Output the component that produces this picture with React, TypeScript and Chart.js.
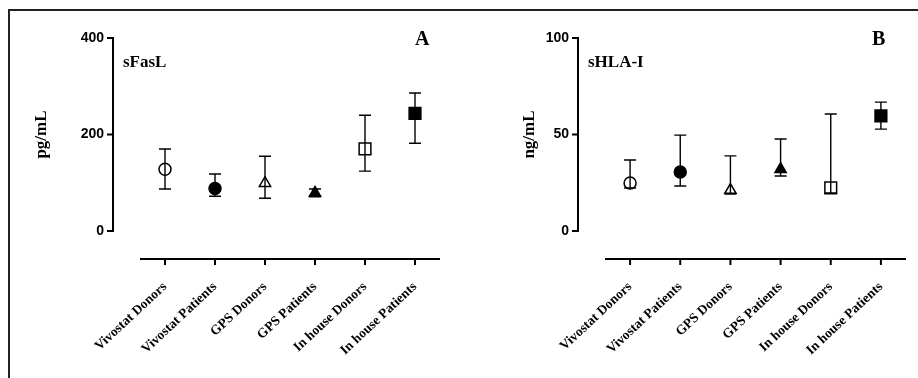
import React, { useEffect, useRef } from "react";
import { Chart, registerables } from "chart.js";

Chart.register(...registerables);

// ---------- data ----------
const categories = [
  "Vivostat Donors",
  "Vivostat Patients",
  "GPS Donors",
  "GPS Patients",
  "In house Donors",
  "In house Patients",
];

// Panel A: sFasL (pg/mL)
const fasLMean = [128, 88, 99, 79, 170, 244];
const fasLLow = [87, 72, 68, 71, 124, 182];
const fasLHigh = [170, 118, 155, 87, 240, 286];
const fasLTicks = [0, 200, 400];

// Panel B: sHLA-I (ng/mL)
const hlaMean = [24.9, 30.6, 21.2, 32, 22.3, 59.6];
const hlaLow = [22.3, 23.3, 19.2, 28.5, 19.7, 52.8];
const hlaHigh = [36.8, 49.7, 38.9, 47.7, 60.6, 66.8];
const hlaTicks = [0, 50, 100];

const markerStyles = ["circle", "circle", "triangle", "triangle", "rect", "rect"];
const markerFills = ["#ffffff", "#000000", "#ffffff", "#000000", "#ffffff", "#000000"];
const markerRadii = [6, 6, 6.5, 6.5, 8.3, 8.3];

const SERIF = '"Liberation Serif", "Times New Roman", serif';
const SANS = '"Liberation Sans", Arial, Helvetica, sans-serif';

type PanelCfg = {
  mean: number[];
  low: number[];
  high: number[];
  ticks: number[];
  yTitle: string;
  label: string;
  letter: string;
  canvasLeft: number;
  plotLeft: number; // relative to canvas
  padRight: number;
  titlePad: number;
  letterX: number; // relative to canvas
};

const panels: PanelCfg[] = [
  {
    mean: fasLMean,
    low: fasLLow,
    high: fasLHigh,
    ticks: fasLTicks,
    yTitle: "pg/mL",
    label: "sFasL",
    letter: "A",
    canvasLeft: 0,
    plotLeft: 140,
    padRight: 19,
    titlePad: 32,
    letterX: 415,
  },
  {
    mean: hlaMean,
    low: hlaLow,
    high: hlaHigh,
    ticks: hlaTicks,
    yTitle: "ng/mL",
    label: "sHLA-I",
    letter: "B",
    canvasLeft: 459,
    plotLeft: 146,
    padRight: 12,
    titlePad: 61,
    letterX: 413,
  },
];

const CANVAS_W = 459;
const CANVAS_H = 378;
const PLOT_TOP = 38;
const PLOT_BOTTOM = 231;
const Y_AXIS_GAP = 27;
const X_AXIS_GAP = 28;

function prismPlugin(p: PanelCfg) {
  return {
    id: "prismStyle",
    afterDatasetsDraw(chart: any) {
      const ctx = chart.ctx as CanvasRenderingContext2D;
      const xs = chart.scales.x;
      const ys = chart.scales.y;
      ctx.save();
      ctx.strokeStyle = "#000";
      ctx.lineWidth = 1.4;
      p.low.forEach((lo, i) => {
        const px = xs.getPixelForValue(i);
        const yl = ys.getPixelForValue(lo);
        const yh = ys.getPixelForValue(p.high[i]);
        ctx.beginPath();
        ctx.moveTo(px, yl);
        ctx.lineTo(px, yh);
        ctx.moveTo(px - 6, yl);
        ctx.lineTo(px + 6, yl);
        ctx.moveTo(px - 6, yh);
        ctx.lineTo(px + 6, yh);
        ctx.stroke();
      });
      ctx.restore();
    },
    afterDraw(chart: any) {
      const ctx = chart.ctx as CanvasRenderingContext2D;
      const xs = chart.scales.x;
      const ys = chart.scales.y;
      const area = chart.chartArea;
      ctx.save();
      ctx.strokeStyle = "#000";
      ctx.lineWidth = 2;
      // detached y axis
      const ax = area.left - Y_AXIS_GAP;
      const yTop = ys.getPixelForValue(ys.max);
      const yBot = ys.getPixelForValue(ys.min);
      ctx.beginPath();
      ctx.moveTo(ax, yTop - 1);
      ctx.lineTo(ax, yBot + 1);
      ys.ticks.forEach((t: any) => {
        const ty = ys.getPixelForValue(t.value);
        ctx.moveTo(ax - 6, ty);
        ctx.lineTo(ax, ty);
      });
      ctx.stroke();
      // detached x axis
      const ay = area.bottom + X_AXIS_GAP;
      ctx.beginPath();
      ctx.moveTo(area.left, ay);
      ctx.lineTo(area.right, ay);
      categories.forEach((_, i) => {
        const tx = xs.getPixelForValue(i);
        ctx.moveTo(tx, ay);
        ctx.lineTo(tx, ay + 6);
      });
      ctx.stroke();
      // panel texts
      ctx.fillStyle = "#000";
      ctx.textBaseline = "alphabetic";
      ctx.textAlign = "left";
      ctx.font = `bold 17px ${SERIF}`;
      ctx.fillText(p.label, area.left - 17, 67);
      ctx.font = `bold 20px ${SERIF}`;
      ctx.fillText(p.letter, p.letterX, 45);
      ctx.restore();
    },
  };
}

function Panel({ cfg }: { cfg: PanelCfg }) {
  const ref = useRef<HTMLCanvasElement | null>(null);
  useEffect(() => {
    if (!ref.current) return;
    const chart = new Chart(ref.current, {
      type: "line",
      data: {
        labels: categories,
        datasets: [
          {
            data: cfg.mean,
            showLine: false,
            pointStyle: markerStyles as any,
            pointRadius: markerRadii,
            pointHoverRadius: markerRadii,
            pointBackgroundColor: markerFills,
            pointBorderColor: "#000",
            pointBorderWidth: 1.5,
          },
        ],
      },
      options: {
        animation: false,
        responsive: false,
        events: [],
        layout: { padding: { top: PLOT_TOP, right: cfg.padRight, left: 0, bottom: 0 } },
        plugins: { legend: { display: false }, tooltip: { enabled: false } },
        scales: {
          x: {
            type: "category",
            offset: true,
            grid: { display: false, drawTicks: false },
            border: { display: false },
            ticks: {
              minRotation: 43,
              maxRotation: 43,
              autoSkip: false,
              padding: 48,
              color: "#000",
              font: { family: SERIF, weight: "bold", size: 13.5 },
            },
            afterFit: (s: any) => {
              s.height = CANVAS_H - PLOT_BOTTOM;
              s.paddingLeft = 0;
              s.paddingRight = 0;
            },
          },
          y: {
            min: cfg.ticks[0],
            max: cfg.ticks[cfg.ticks.length - 1],
            grid: { display: false, drawTicks: false },
            border: { display: false },
            afterBuildTicks: (s: any) => {
              s.ticks = cfg.ticks.map((v) => ({ value: v }));
            },
            ticks: {
              padding: 36,
              color: "#000",
              font: { family: SANS, weight: "bold", size: 14 },
            },
            title: {
              display: true,
              text: cfg.yTitle,
              color: "#000",
              font: { family: SERIF, weight: "bold", size: 17 },
              padding: { top: cfg.titlePad - 1, bottom: 0 },
            },
            afterFit: (s: any) => {
              s.width = cfg.plotLeft;
              s.paddingTop = 0;
              s.paddingBottom = 0;
            },
          },
        },
      },
      plugins: [prismPlugin(cfg)],
    });
    return () => chart.destroy();
  }, [cfg]);
  return (
    <canvas
      ref={ref}
      width={CANVAS_W}
      height={CANVAS_H}
      style={{ position: "absolute", left: cfg.canvasLeft, top: 0, width: CANVAS_W, height: CANVAS_H }}
    />
  );
}

export default function App() {
  return (
    <div
      style={{
        position: "fixed",
        left: 0,
        top: 0,
        width: 918,
        height: 378,
        background: "#fff",
        overflow: "hidden",
      }}
    >
      <div
        style={{
          position: "absolute",
          left: 8,
          top: 9,
          width: 920,
          height: 380,
          borderLeft: "2px solid #222",
          borderTop: "2px solid #222",
        }}
      />
      {panels.map((p) => (
        <Panel key={p.letter} cfg={p} />
      ))}
    </div>
  );
}
